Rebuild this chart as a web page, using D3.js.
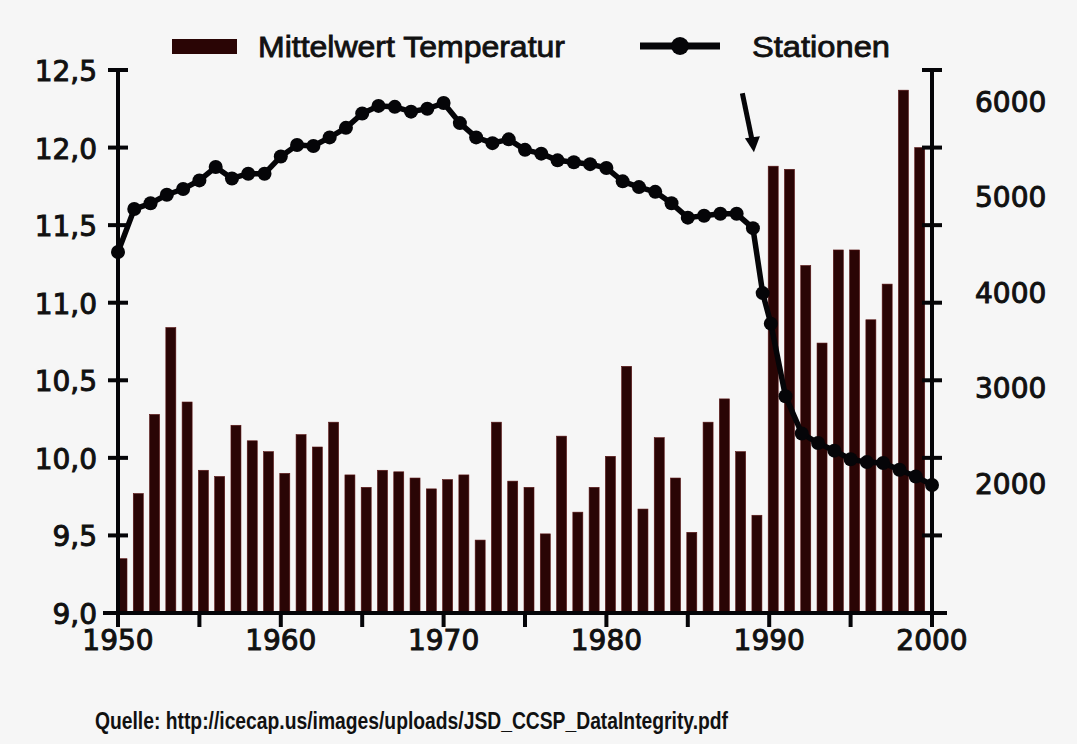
<!DOCTYPE html>
<html>
<head>
<meta charset="utf-8">
<script src="https://cdn.jsdelivr.net/npm/d3@7"></script>
<style>
  body { margin: 0; background: #f6f6f6; }
  svg { display: block; }
</style>
</head>
<body>
<script>
// Mittelwert Temperatur (linke Achse), 1950-1999
var tempYears = d3.range(1950, 2000);
var tempValues = [
  9.35, 9.77, 10.28, 10.84, 10.36, 9.92, 9.88, 10.21, 10.11, 10.04,
  9.90, 10.15, 10.07, 10.23, 9.89, 9.81, 9.92, 9.91, 9.87, 9.80,
  9.86, 9.89, 9.47, 10.23, 9.85, 9.81, 9.51, 10.14, 9.65, 9.81,
  10.01, 10.59, 9.67, 10.13, 9.87, 9.52, 10.23, 10.38, 10.04, 9.63,
  11.88, 11.86, 11.24, 10.74, 11.34, 11.34, 10.89, 11.12, 12.37, 12.00
];

// Stationen (rechte Achse)
var stationYears = d3.range(1950, 1990).concat([1989.6, 1990.1]).concat(d3.range(1991, 2001));
var stationValues = [
  4450, 4900, 4960, 5050, 5110, 5200, 5340, 5220, 5270, 5270,
  5450, 5570, 5560, 5650, 5750, 5900, 5980, 5970, 5920, 5950,
  6010, 5800, 5650, 5590, 5630, 5520, 5480, 5410, 5390, 5370,
  5330, 5190, 5130, 5080, 4960, 4810, 4830, 4850, 4850, 4700,
  4020, 3700,
  2940, 2550, 2450, 2370, 2280, 2250, 2240, 2170, 2100, 2010
];

var leftTicks = [9.0, 9.5, 10.0, 10.5, 11.0, 11.5, 12.0, 12.5];
var rightLabels = [2000, 3000, 4000, 5000, 6000];
var xTicks = d3.range(1950, 2001, 5);
var xLabels = [1950, 1960, 1970, 1980, 1990, 2000];

var width = 1077;
var height = 744;
var barColor = "#2a0505";
var ink = "#050508";
var numFont = "'DejaVu Sans', sans-serif";

var svg = d3.select("body").append("svg")
  .attr("width", width)
  .attr("height", height);

svg.append("rect")
  .attr("width", width)
  .attr("height", height)
  .attr("fill", "#f6f6f6");

var x = d3.scaleLinear().domain([1950, 2000]).range([118, 932]);
var yT = d3.scaleLinear().domain([9, 12.5]).range([613, 70]);
var yS = d3.scaleLinear().domain([670, 6356]).range([613, 70]);

// Balken
svg.selectAll(".bar")
  .data(tempYears)
  .enter()
  .append("rect")
  .attr("class", "bar")
  .attr("x", function(d) { return x(d) - 1; })
  .attr("width", 10)
  .attr("y", function(d, i) { return yT(tempValues[i]); })
  .attr("height", function(d, i) { return yT(9) - yT(tempValues[i]); })
  .attr("fill", barColor)
  .attr("stroke", "#5a1414")
  .attr("stroke-width", 0.6);

// Achsen
var axisW = 4;

svg.append("line")
  .attr("x1", x(1950)).attr("x2", x(1950))
  .attr("y1", yT(12.5)).attr("y2", yT(9) + 14)
  .attr("stroke", ink).attr("stroke-width", axisW);

svg.append("line")
  .attr("x1", x(2000)).attr("x2", x(2000))
  .attr("y1", yT(12.5)).attr("y2", yT(9) + 14)
  .attr("stroke", ink).attr("stroke-width", axisW);

svg.append("line")
  .attr("x1", x(1950) - 15).attr("x2", x(2000) + 15)
  .attr("y1", yT(9)).attr("y2", yT(9))
  .attr("stroke", ink).attr("stroke-width", axisW);

// Tick-Striche links und rechts
svg.selectAll(".ltick")
  .data(leftTicks)
  .enter()
  .append("line")
  .attr("x1", x(1950) - 10).attr("x2", x(1950) + 10)
  .attr("y1", function(d) { return yT(d); })
  .attr("y2", function(d) { return yT(d); })
  .attr("stroke", ink).attr("stroke-width", axisW);

svg.selectAll(".rtick")
  .data(leftTicks)
  .enter()
  .append("line")
  .attr("x1", x(2000) - 10).attr("x2", x(2000) + 10)
  .attr("y1", function(d) { return yT(d); })
  .attr("y2", function(d) { return yT(d); })
  .attr("stroke", ink).attr("stroke-width", axisW);

svg.selectAll(".xtick")
  .data(xTicks)
  .enter()
  .append("line")
  .attr("x1", function(d) { return x(d); })
  .attr("x2", function(d) { return x(d); })
  .attr("y1", yT(9)).attr("y2", yT(9) + 14)
  .attr("stroke", ink).attr("stroke-width", axisW);

// Beschriftungen
function numLabel(sel) {
  sel.attr("font-family", numFont)
    .attr("font-size", 28)
    .attr("fill", "#111")
    .attr("stroke", "#111")
    .attr("stroke-width", 1)
    .attr("dominant-baseline", "middle");
}

svg.selectAll(".llab")
  .data(leftTicks)
  .enter()
  .append("text")
  .attr("x", 97)
  .attr("y", function(d) { return yT(d) + 3; })
  .attr("text-anchor", "end")
  .call(numLabel)
  .text(function(d) { return d3.format(".1f")(d).replace(".", ","); });

svg.selectAll(".rlab")
  .data(rightLabels)
  .enter()
  .append("text")
  .attr("x", 975)
  .attr("y", function(d) { return yS(d); })
  .call(numLabel)
  .text(function(d) { return d; });

svg.selectAll(".xlab")
  .data(xLabels)
  .enter()
  .append("text")
  .attr("x", function(d) { return x(d); })
  .attr("y", 642)
  .attr("text-anchor", "middle")
  .call(numLabel)
  .text(function(d) { return d; });

// Stationen-Linie
var stations = stationYears.map(function(d, i) { return [d, stationValues[i]]; });

var line = d3.line()
  .x(function(d) { return x(d[0]); })
  .y(function(d) { return yS(d[1]); });

svg.append("path")
  .datum(stations)
  .attr("d", line)
  .attr("fill", "none")
  .attr("stroke", ink)
  .attr("stroke-width", 5.5)
  .attr("stroke-linejoin", "round");

svg.selectAll(".pt")
  .data(stations)
  .enter()
  .append("circle")
  .attr("cx", function(d) { return x(d[0]); })
  .attr("cy", function(d) { return yS(d[1]); })
  .attr("r", 7)
  .attr("fill", ink);

// Pfeil
var ax1 = x(1988.35), ay1 = yT(12.35);
var ax2 = x(1989.0), ay2 = yT(11.97);
svg.append("line")
  .attr("x1", ax1).attr("y1", ay1)
  .attr("x2", ax2).attr("y2", ay2 - 8)
  .attr("stroke", ink).attr("stroke-width", 5);
svg.append("path")
  .attr("d", "M" + (ax2 - 8) + "," + (ay2 - 14) + "L" + (ax2 + 7) + "," + (ay2 - 16) + "L" + (ax2 + 1) + "," + ay2 + "Z")
  .attr("fill", ink);

// Legende
svg.append("rect")
  .attr("x", 172).attr("y", 39)
  .attr("width", 65).attr("height", 15)
  .attr("fill", barColor);

svg.append("text")
  .attr("x", 258).attr("y", 57)
  .attr("font-family", "'Liberation Sans', Arial, sans-serif")
  .attr("font-size", 29)
  .attr("textLength", 307)
  .attr("lengthAdjust", "spacingAndGlyphs")
  .attr("fill", "#111")
  .attr("stroke", "#111").attr("stroke-width", 0.8)
  .text("Mittelwert Temperatur");

svg.append("line")
  .attr("x1", 640).attr("x2", 720)
  .attr("y1", 46).attr("y2", 46)
  .attr("stroke", ink).attr("stroke-width", 7);
svg.append("circle")
  .attr("cx", 680).attr("cy", 46).attr("r", 9)
  .attr("fill", ink);

svg.append("text")
  .attr("x", 752).attr("y", 57)
  .attr("font-family", "'Liberation Sans', Arial, sans-serif")
  .attr("font-size", 29)
  .attr("textLength", 138)
  .attr("lengthAdjust", "spacingAndGlyphs")
  .attr("fill", "#111")
  .attr("stroke", "#111").attr("stroke-width", 0.8)
  .text("Stationen");

// Quelle
svg.append("text")
  .attr("x", 95).attr("y", 729)
  .attr("font-family", "'Liberation Sans Narrow', 'Liberation Sans', Arial, sans-serif")
  .attr("font-size", 23)
  .attr("font-weight", "bold")
  .attr("textLength", 633)
  .attr("lengthAdjust", "spacingAndGlyphs")
  .attr("fill", "#111")
  .text("Quelle: http://icecap.us/images/uploads/JSD_CCSP_DataIntegrity.pdf");
</script>
</body>
</html>
